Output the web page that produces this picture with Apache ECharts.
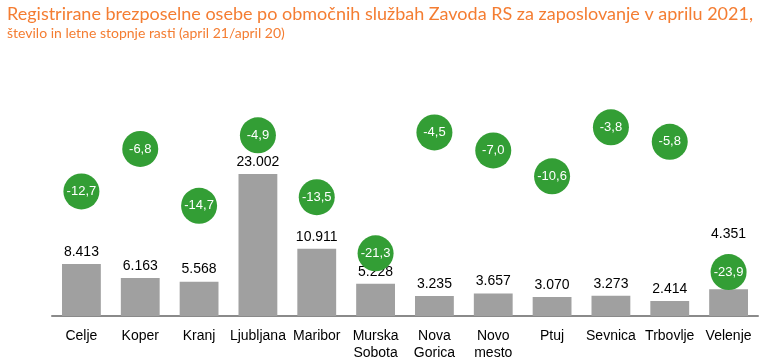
<!DOCTYPE html>
<html>
<head>
<meta charset="utf-8">
<script src="https://cdn.jsdelivr.net/npm/echarts@6/dist/echarts.min.js"></script>
<style>html,body{margin:0;padding:0;background:#fff;}#c{width:768px;height:362px;}</style>
</head>
<body>
<div id="c"></div>
<script>
const categories = ['Celje','Koper','Kranj','Ljubljana','Maribor','Murska\nSobota','Nova\nGorica','Novo\nmesto','Ptuj','Sevnica','Trbovlje','Velenje'];
const unemployed = [8413, 6163, 5568, 23002, 10911, 5228, 3235, 3657, 3070, 3273, 2414, 4351];
const growthRates = [-12.7, -6.8, -14.7, -4.9, -13.5, -21.3, -4.5, -7.0, -10.6, -3.8, -5.8, -23.9];

const fmtThousands = v => String(v).replace(/\B(?=(\d{3})+(?!\d))/g, '.');
const fmtComma = v => v.toFixed(1).replace('.', ',');

const chart = echarts.init(document.getElementById('c'), null, {renderer: 'canvas'});
const barData = unemployed.map((v, i) => {
  const item = {value: v};
  if (categories[i] === 'Velenje') item.label = {offset: [0, -43]};
  return item;
});
chart.setOption({
  animation: false,
  backgroundColor: '#fff',
  title: {
    text: 'Registrirane brezposelne osebe po območnih službah Zavoda RS za zaposlovanje v aprilu 2021,',
    subtext: 'število in letne stopnje rasti (april 21/april 20)',
    left: 2, top: 0,
    itemGap: 3,
    textStyle: {color: '#f47d32', fontFamily: 'Lato', fontSize: 18, fontWeight: 'normal'},
    subtextStyle: {color: '#f47d32', fontFamily: 'Lato', fontSize: 14}
  },
  grid: {left: 52, right: 10, top: 100, bottom: 43},
  xAxis: {
    type: 'category',
    data: categories,
    axisLine: {lineStyle: {color: '#8a8a8a', width: 2}},
    axisTick: {show: false},
    axisLabel: {color: '#000', fontFamily: 'Liberation Sans', fontSize: 14, lineHeight: 17, margin: 12, interval: 0}
  },
  yAxis: [
    {type: 'value', min: 0, max: 35000, show: false, splitLine: {show: false}},
    {type: 'value', min: -30, max: 0, show: false, splitLine: {show: false}}
  ],
  series: [
    {
      type: 'bar',
      data: barData,
      barWidth: '66%',
      itemStyle: {color: '#a0a0a0'},
      label: {show: true, position: 'top', distance: 5, color: '#000', fontFamily: 'Liberation Sans', fontSize: 14,
        formatter: p => fmtThousands(p.value)}
    },
    {
      type: 'scatter',
      yAxisIndex: 1,
      data: growthRates,
      symbol: 'circle',
      symbolSize: 36,
      itemStyle: {color: '#339e35', opacity: 1},
      z: 5,
      label: {show: true, position: 'inside', color: '#fff', fontFamily: 'Liberation Sans', fontSize: 13,
        formatter: p => fmtComma(p.value)}
    }
  ]
});
</script>
</body>
</html>
